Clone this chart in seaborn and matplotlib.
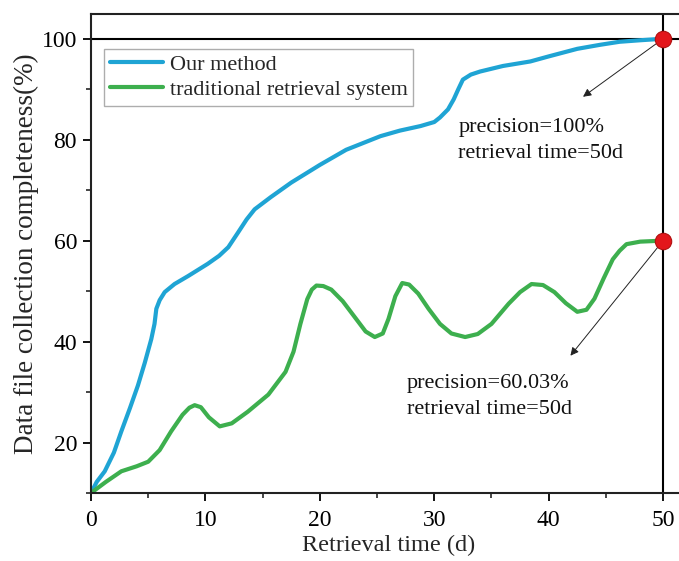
import numpy as np
import pandas as pd
import matplotlib
matplotlib.use("Agg")
import matplotlib.pyplot as plt
from matplotlib.ticker import MultipleLocator
import seaborn as sns

# Data
ours_x = [0, 0.5, 1.2, 2.0, 2.65, 3.4, 4.1, 4.7, 5.27, 5.55, 5.71, 6.0, 6.44, 7.3, 8.5, 10.2, 11.2, 12.0,
          12.85, 13.6, 14.3, 15.7, 17.5, 20.0, 22.3, 25.3, 27.0, 28.8, 30.0, 30.5, 31.2, 31.7, 32.1,
          32.5, 33.2, 34.0, 36.0, 38.4, 40.0, 42.5, 44.5, 46.2, 48.0, 50.0]
ours_y = [10, 12.2, 14.3, 18.0, 22.2, 26.8, 31.3, 35.8, 40.5, 43.5, 46.5, 48.2, 49.8, 51.4, 53.0, 55.4,
          57.0, 58.7, 61.6, 64.2, 66.2, 68.6, 71.5, 75.0, 78.0, 80.7, 81.8, 82.7, 83.5, 84.4, 86.0, 88.0,
          90.0, 91.9, 92.9, 93.5, 94.6, 95.5, 96.5, 98.0, 98.8, 99.4, 99.7, 100.0]

trad_x = [0, 1.3, 2.65, 4.0, 5.0, 6.0, 7.0, 8.0, 8.6, 9.06, 9.6, 10.3, 11.25, 12.3, 13.7, 15.5, 17.0, 17.7,
          18.3, 18.9, 19.3, 19.7, 20.3, 21.0, 22.0, 23.0, 24.0, 24.8, 25.5, 26.0, 26.6, 27.2, 27.8,
          28.6, 29.5, 30.5, 31.5, 32.7, 33.8, 35.0, 36.5, 37.5, 38.5, 39.5, 40.5, 41.5, 42.5, 43.3,
          44.0, 44.8, 45.6, 46.2, 46.8, 48.0, 50.0]
trad_y = [10, 12.2, 14.3, 15.3, 16.2, 18.5, 22.2, 25.5, 26.9, 27.4, 27.0, 25.0, 23.2, 23.8, 26.1, 29.5,
          34.0, 38.0, 43.5, 48.4, 50.3, 51.1, 51.0, 50.3, 48.0, 45.0, 42.0, 40.9, 41.6, 44.5, 49.0, 51.6,
          51.3, 49.5, 46.5, 43.5, 41.6, 40.9, 41.5, 43.5, 47.5, 49.8, 51.4, 51.2, 49.8, 47.6, 45.9, 46.3,
          48.5, 52.5, 56.3, 58.0, 59.3, 59.8, 60.0]

x_ticks = [0, 10, 20, 30, 40, 50]
y_ticks = [20, 40, 60, 80, 100]

df = pd.concat([
    pd.DataFrame({"t": ours_x, "v": ours_y, "series": "Our method"}),
    pd.DataFrame({"t": trad_x, "v": trad_y, "series": "traditional retrieval system"}),
])

sns.set_theme(style="ticks")
plt.rcParams['font.family'] = ['Liberation Serif', 'DejaVu Serif']
plt.rcParams['lines.solid_joinstyle'] = 'round'
plt.rcParams['lines.solid_capstyle'] = 'round'

fig = plt.figure(figsize=(6.79, 5.61), dpi=100)
ax = fig.add_axes([91/679, (561-493)/561, 595/679, (493-14)/561])

palette = {"Our method": "#1fa4d4", "traditional retrieval system": "#3daf4e"}
sns.lineplot(data=df, x="t", y="v", hue="series", palette=palette, linewidth=3, ax=ax,
             sort=False, estimator=None)

ax.set_xlim(0, 52)
ax.set_ylim(10, 104.9)
ax.set_xticks(x_ticks)
ax.set_yticks(y_ticks)
ax.xaxis.set_minor_locator(MultipleLocator(5))
ax.yaxis.set_minor_locator(MultipleLocator(10))
ax.tick_params(which='major', direction='out', length=6, width=1.3, labelsize=17, colors='black', pad=4)
ax.tick_params(axis='x', which='major', pad=6)
ax.tick_params(which='minor', direction='out', length=3.5, width=1.2)
for s in ['left', 'bottom', 'top', 'right']:
    ax.spines[s].set_linewidth(1.5)
    ax.spines[s].set_color('#222222')

ax.axvline(50, color='black', lw=1.5, zorder=1)
ax.axhline(100, color='black', lw=1.5, zorder=1)

ax.scatter([ours_x[-1], trad_x[-1]], [ours_y[-1], trad_y[-1]], s=140, color='#e3161b',
           edgecolor='#b01010', linewidth=0.8, zorder=5)

ax.annotate('', xy=(43.0, 88.5), xytext=(50, 100),
            arrowprops=dict(arrowstyle='-|>', lw=0.7, color='#222222', mutation_scale=12,
                            shrinkA=0, shrinkB=0))
ax.annotate('', xy=(41.9, 37.2), xytext=(50, 60),
            arrowprops=dict(arrowstyle='-|>', lw=0.7, color='#222222', mutation_scale=12,
                            shrinkA=0, shrinkB=0))
ax.text(32.1, 79.9, "precision=100%\nretrieval time=50d", fontsize=16, va='center', ha='left',
        linespacing=1.5, color='#111111')
ax.text(27.6, 29.1, "precision=60.03%\nretrieval time=50d", fontsize=16, va='center', ha='left',
        linespacing=1.5, color='#111111')

ax.set_xlabel("Retrieval time (d)", fontsize=17.5, labelpad=3)
ax.set_ylabel("Data file collection completeness(%)", fontsize=19.5, labelpad=2)

leg = ax.legend(loc='upper left', bbox_to_anchor=(0.022, 0.927), fontsize=16, frameon=True,
                fancybox=False, edgecolor='#999999', handlelength=2.4, handletextpad=0.3,
                borderpad=0.25, labelspacing=0.2, borderaxespad=0, title=None)
leg.get_frame().set_linewidth(1.0)

fig.savefig("out.png", dpi=100)
